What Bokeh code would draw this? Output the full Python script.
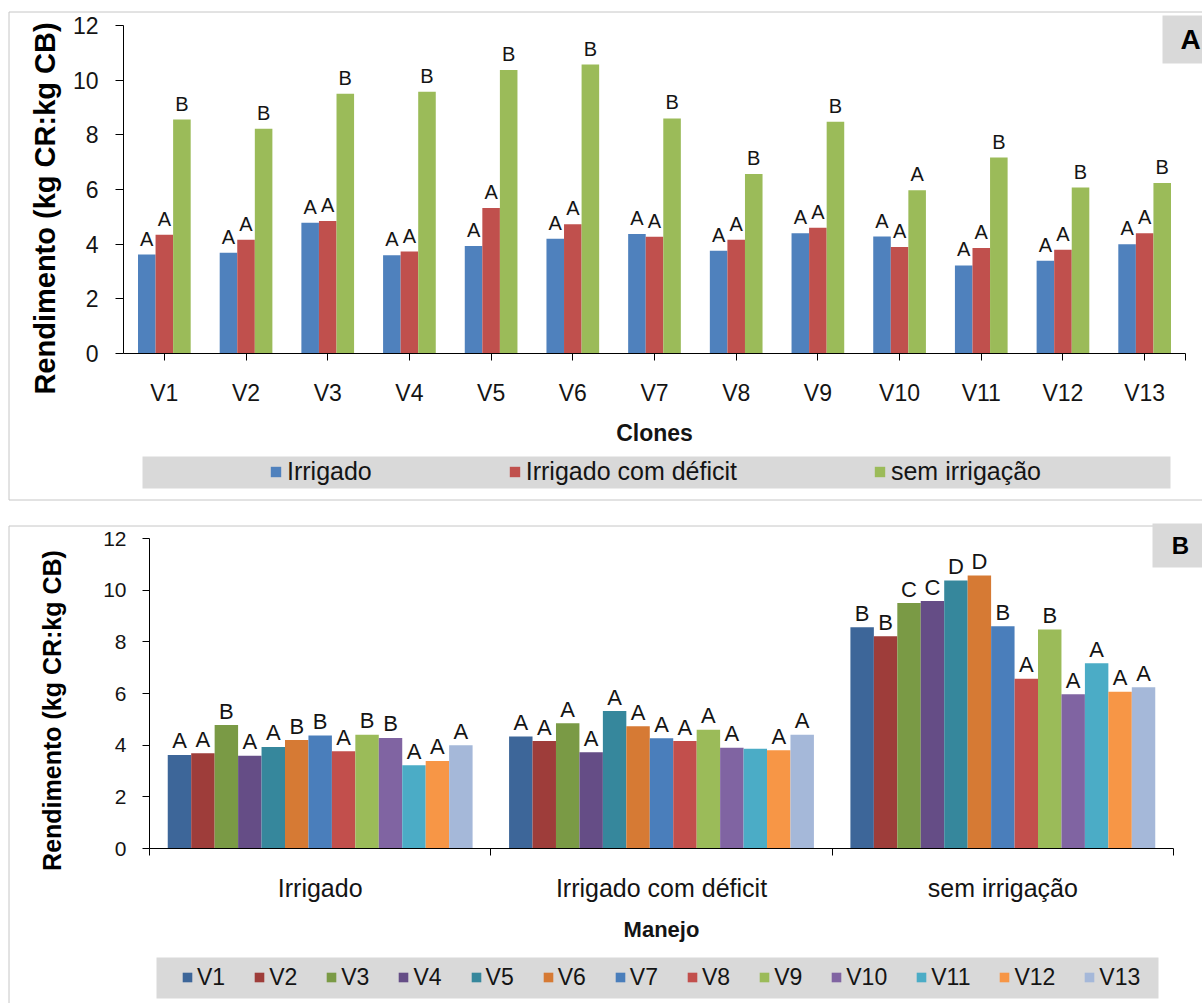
import math

from bokeh.plotting import figure
from bokeh.models import (ColumnDataSource, Legend, LegendItem, BoxAnnotation, Label,
                          LinearAxis, FixedTicker, Range1d)
from bokeh.transform import dodge
from bokeh.layouts import column
from bokeh.core.properties import value
from bokeh.embed import file_html
from bokeh.resources import INLINE

# ---- data ---------------------------------------------------------------
clones = ["V1", "V2", "V3", "V4", "V5", "V6", "V7", "V8", "V9", "V10", "V11", "V12", "V13"]
manejos = ["Irrigado", "Irrigado com déficit", "sem irrigação"]

irrigado = [3.62, 3.69, 4.78, 3.59, 3.93, 4.20, 4.37, 3.76, 4.40, 4.28, 3.22, 3.39, 4.00]
deficit = [4.34, 4.16, 4.85, 3.73, 5.32, 4.73, 4.27, 4.16, 4.60, 3.90, 3.86, 3.80, 4.40]
sem_irrigacao = [8.56, 8.22, 9.50, 9.58, 10.37, 10.57, 8.60, 6.57, 8.48, 5.97, 7.17, 6.07, 6.24]

# letters comparing irrigation regimes within each clone
letra_a_irrigado = ["A"] * 13
letra_a_deficit = ["A"] * 13
letra_a_sem = ["B", "B", "B", "B", "B", "B", "B", "B", "B", "A", "B", "B", "B"]

# letters comparing clones within each irrigation regime
letra_b_irrigado = ["A", "A", "B", "A", "A", "B", "B", "A", "B", "B", "A", "A", "A"]
letra_b_deficit = ["A", "A", "A", "A", "A", "A", "A", "A", "A", "A", "", "A", "A"]
letra_b_sem = ["B", "B", "C", "C", "D", "D", "B", "A", "B", "A", "A", "A", "A"]

y_ticks = [0, 2, 4, 6, 8, 10, 12]
y_title = "Rendimento (kg CR:kg CB)"

cores_manejo = ["#4F81BD", "#C0504D", "#9BBB59"]
cores_clone = ["#3D6699", "#9E3D3A", "#7A9A45", "#654D86", "#36879C", "#D67A34",
               "#4A7EBB", "#C24F4C", "#9BBB59", "#8064A2", "#4BACC6", "#F79646", "#A5B8D9"]

# ---- page geometry (pixels) --------------------------------------------------
W = 1202
FONT = "Liberation Sans"
TXT = "#141414"
BAND = "#D9D9D9"
FRAME = "#C6C6C6"


def make_panel(height, n_cat, px_x0, px_x1, px_y0, px_y12):
    """Figure whose plotting frame fills the whole canvas; the data window is
    chosen so that x=0..n_cat spans px_x0..px_x1 and y=0..12 spans px_y0..px_y12."""
    ux = (px_x1 - px_x0) / n_cat
    uy = (px_y0 - px_y12) / 12.0
    xr = Range1d(-px_x0 / ux, (W - px_x0) / ux)
    yr = Range1d(-(height - px_y0) / uy, 12 + px_y12 / uy)
    p = figure(width=W, height=height, x_range=xr, y_range=yr,
               x_axis_type=None, y_axis_type=None,
               output_backend="svg", toolbar_location=None,
               min_border=0, min_border_left=0, min_border_right=0,
               min_border_top=0, min_border_bottom=0)
    p.frame_align = False
    p.outline_line_color = None
    p.grid.visible = False
    return p


def canvas_box(p, left, right, top, bottom, fill=None, line=None):
    p.add_layout(BoxAnnotation(left=left, right=right, top=top, bottom=bottom,
                               left_units="canvas", right_units="canvas",
                               top_units="canvas", bottom_units="canvas",
                               fill_color=fill, fill_alpha=1 if fill else 0,
                               line_color=line, line_alpha=1 if line else 0,
                               line_width=1, line_dash="solid"))


def canvas_text(p, text, x, y, size, angle=0.0):
    p.add_layout(Label(x=x, y=y, x_units="canvas", y_units="canvas", text=text,
                       angle=angle, text_align="center", text_baseline="middle",
                       text_font=FONT, text_font_style="bold", text_font_size=size,
                       text_color="black"))


def corner_tag(p, text, left, top, bottom, cx, size):
    canvas_box(p, left, W + 10, top, bottom, fill=BAND)
    canvas_text(p, text, cx, (top + bottom) / 2, size)


def add_y_axis(p, tick_size, tick_out, standoff):
    ax = LinearAxis(fixed_location=0, bounds=(0, 12), ticker=FixedTicker(ticks=y_ticks))
    ax.major_label_text_font = FONT
    ax.major_label_text_font_size = tick_size
    ax.major_label_text_color = TXT
    ax.major_label_standoff = standoff
    ax.major_tick_out = tick_out
    ax.major_tick_in = 0
    ax.minor_tick_line_color = None
    ax.axis_line_color = "black"
    ax.major_tick_line_color = "black"
    p.add_layout(ax, "left")


def add_x_axis(p, n_cat, names, label, label_size, tick_size, standoff, label_standoff,
               ticks_at_edges):
    centres = [i + 0.5 for i in range(n_cat)]
    if ticks_at_edges:
        ticker = FixedTicker(ticks=centres, minor_ticks=[float(i) for i in range(n_cat + 1)])
    else:
        ticker = FixedTicker(ticks=centres, minor_ticks=[float(n_cat)])
    ax = LinearAxis(fixed_location=0, bounds=(0, n_cat), ticker=ticker,
                    major_label_overrides=dict(zip(centres, names)))
    ax.axis_label = label
    ax.axis_label_text_font = FONT
    ax.axis_label_text_font_style = "bold"
    ax.axis_label_text_font_size = label_size
    ax.axis_label_text_color = TXT
    ax.axis_label_standoff = label_standoff
    ax.major_label_text_font = FONT
    ax.major_label_text_font_size = tick_size
    ax.major_label_text_color = TXT
    ax.major_label_standoff = standoff
    ax.major_tick_in = 0
    ax.minor_tick_in = 0
    ax.major_tick_out = 0 if ticks_at_edges else 7
    ax.minor_tick_out = 7
    ax.axis_line_color = "black"
    ax.major_tick_line_color = "black"
    ax.minor_tick_line_color = "black"
    p.add_layout(ax, "below")
    return centres


# ---- panel A: clones on the x axis ------------------------------------------
HA = 512
pa = make_panel(HA, len(clones), 123, 1185, 353, 25)
canvas_box(pa, 8.5, W + 10, 11.5, 499.5, line=FRAME)
canvas_box(pa, 142, 1170, 456, 488, fill=BAND)
corner_tag(pa, "A", 1162, 15, 63, 1190, "28px")
canvas_text(pa, y_title, 44, 208, "29px", angle=math.pi / 2)

add_y_axis(pa, "23px", 8, 17)
pos_a = add_x_axis(pa, len(clones), clones, "Clones", "23px", "23px", 19, 11, False)

src_a = ColumnDataSource(dict(pos=pos_a, irrigado=irrigado, deficit=deficit,
                              sem=sem_irrigacao, l_irr=letra_a_irrigado,
                              l_def=letra_a_deficit, l_sem=letra_a_sem))
bw_a = 0.215
series_a = [("irrigado", "l_irr", manejos[0]),
            ("deficit", "l_def", manejos[1]),
            ("sem", "l_sem", manejos[2])]
items_a = []
for k, (col, lcol, name) in enumerate(series_a):
    off = (k - 1) * bw_a
    r = pa.vbar(x=dodge("pos", off), top=col, width=bw_a, source=src_a,
                fill_color=cores_manejo[k], line_color=None)
    pa.text(x=dodge("pos", off), y=col, text=lcol, source=src_a,
            text_align="center", text_baseline="alphabetic", y_offset=-16,
            text_font=value(FONT), text_font_size="20px", text_color=TXT)
    items_a.append(LegendItem(label=name, renderers=[r]))

leg_a = Legend(items=items_a, orientation="horizontal", location=(269, HA - 472 - 14),
               background_fill_alpha=0, border_line_color=None, padding=0, margin=0,
               spacing=136, glyph_width=13, glyph_height=13, label_standoff=5,
               label_text_font=FONT, label_text_font_size="25px", label_text_color=TXT)
pa.add_layout(leg_a)

# ---- panel B: irrigation regimes on the x axis ------------------------------
HB = 491
pb = make_panel(HB, len(manejos), 149, 1173, 336, 26)
canvas_box(pb, 8.5, W + 10, 13.5, HB + 20, line=FRAME)
canvas_box(pb, 156, 1158, 445, 486, fill=BAND)
corner_tag(pb, "B", 1152, 11, 55, 1180, "24px")
canvas_text(pb, y_title, 51, 198, "25px", angle=math.pi / 2)

add_y_axis(pb, "21px", 7, 16)
pos_b = add_x_axis(pb, len(manejos), manejos, "Manejo", "22px", "25px", 18, 12, True)

data_b = dict(pos=pos_b)
for i, c in enumerate(clones):
    data_b[c] = [irrigado[i], deficit[i], sem_irrigacao[i]]
    data_b["letra_" + c] = [letra_b_irrigado[i], letra_b_deficit[i], letra_b_sem[i]]
src_b = ColumnDataSource(data_b)

bw_b = 0.0687
items_b = []
for i, c in enumerate(clones):
    off = (i - 6) * bw_b
    r = pb.vbar(x=dodge("pos", off), top=c, width=bw_b, source=src_b,
                fill_color=cores_clone[i], line_color=None)
    pb.text(x=dodge("pos", off), y=c, text="letra_" + c, source=src_b,
            text_align="center", text_baseline="alphabetic", y_offset=-14,
            text_font=value(FONT), text_font_size="22px", text_color=TXT)
    items_b.append(LegendItem(label=c, renderers=[r]))

leg_b = Legend(items=items_b, orientation="horizontal", location=(181, HB - 465.5 - 13),
               background_fill_alpha=0, border_line_color=None, padding=0, margin=0,
               spacing=28, glyph_width=12, glyph_height=12, label_standoff=4,
               label_text_font=FONT, label_text_font_size="23px", label_text_color=TXT)
pb.add_layout(leg_b)

layout = column(pa, pb, spacing=0)
open("out.html", "w").write(file_html(layout, INLINE))
